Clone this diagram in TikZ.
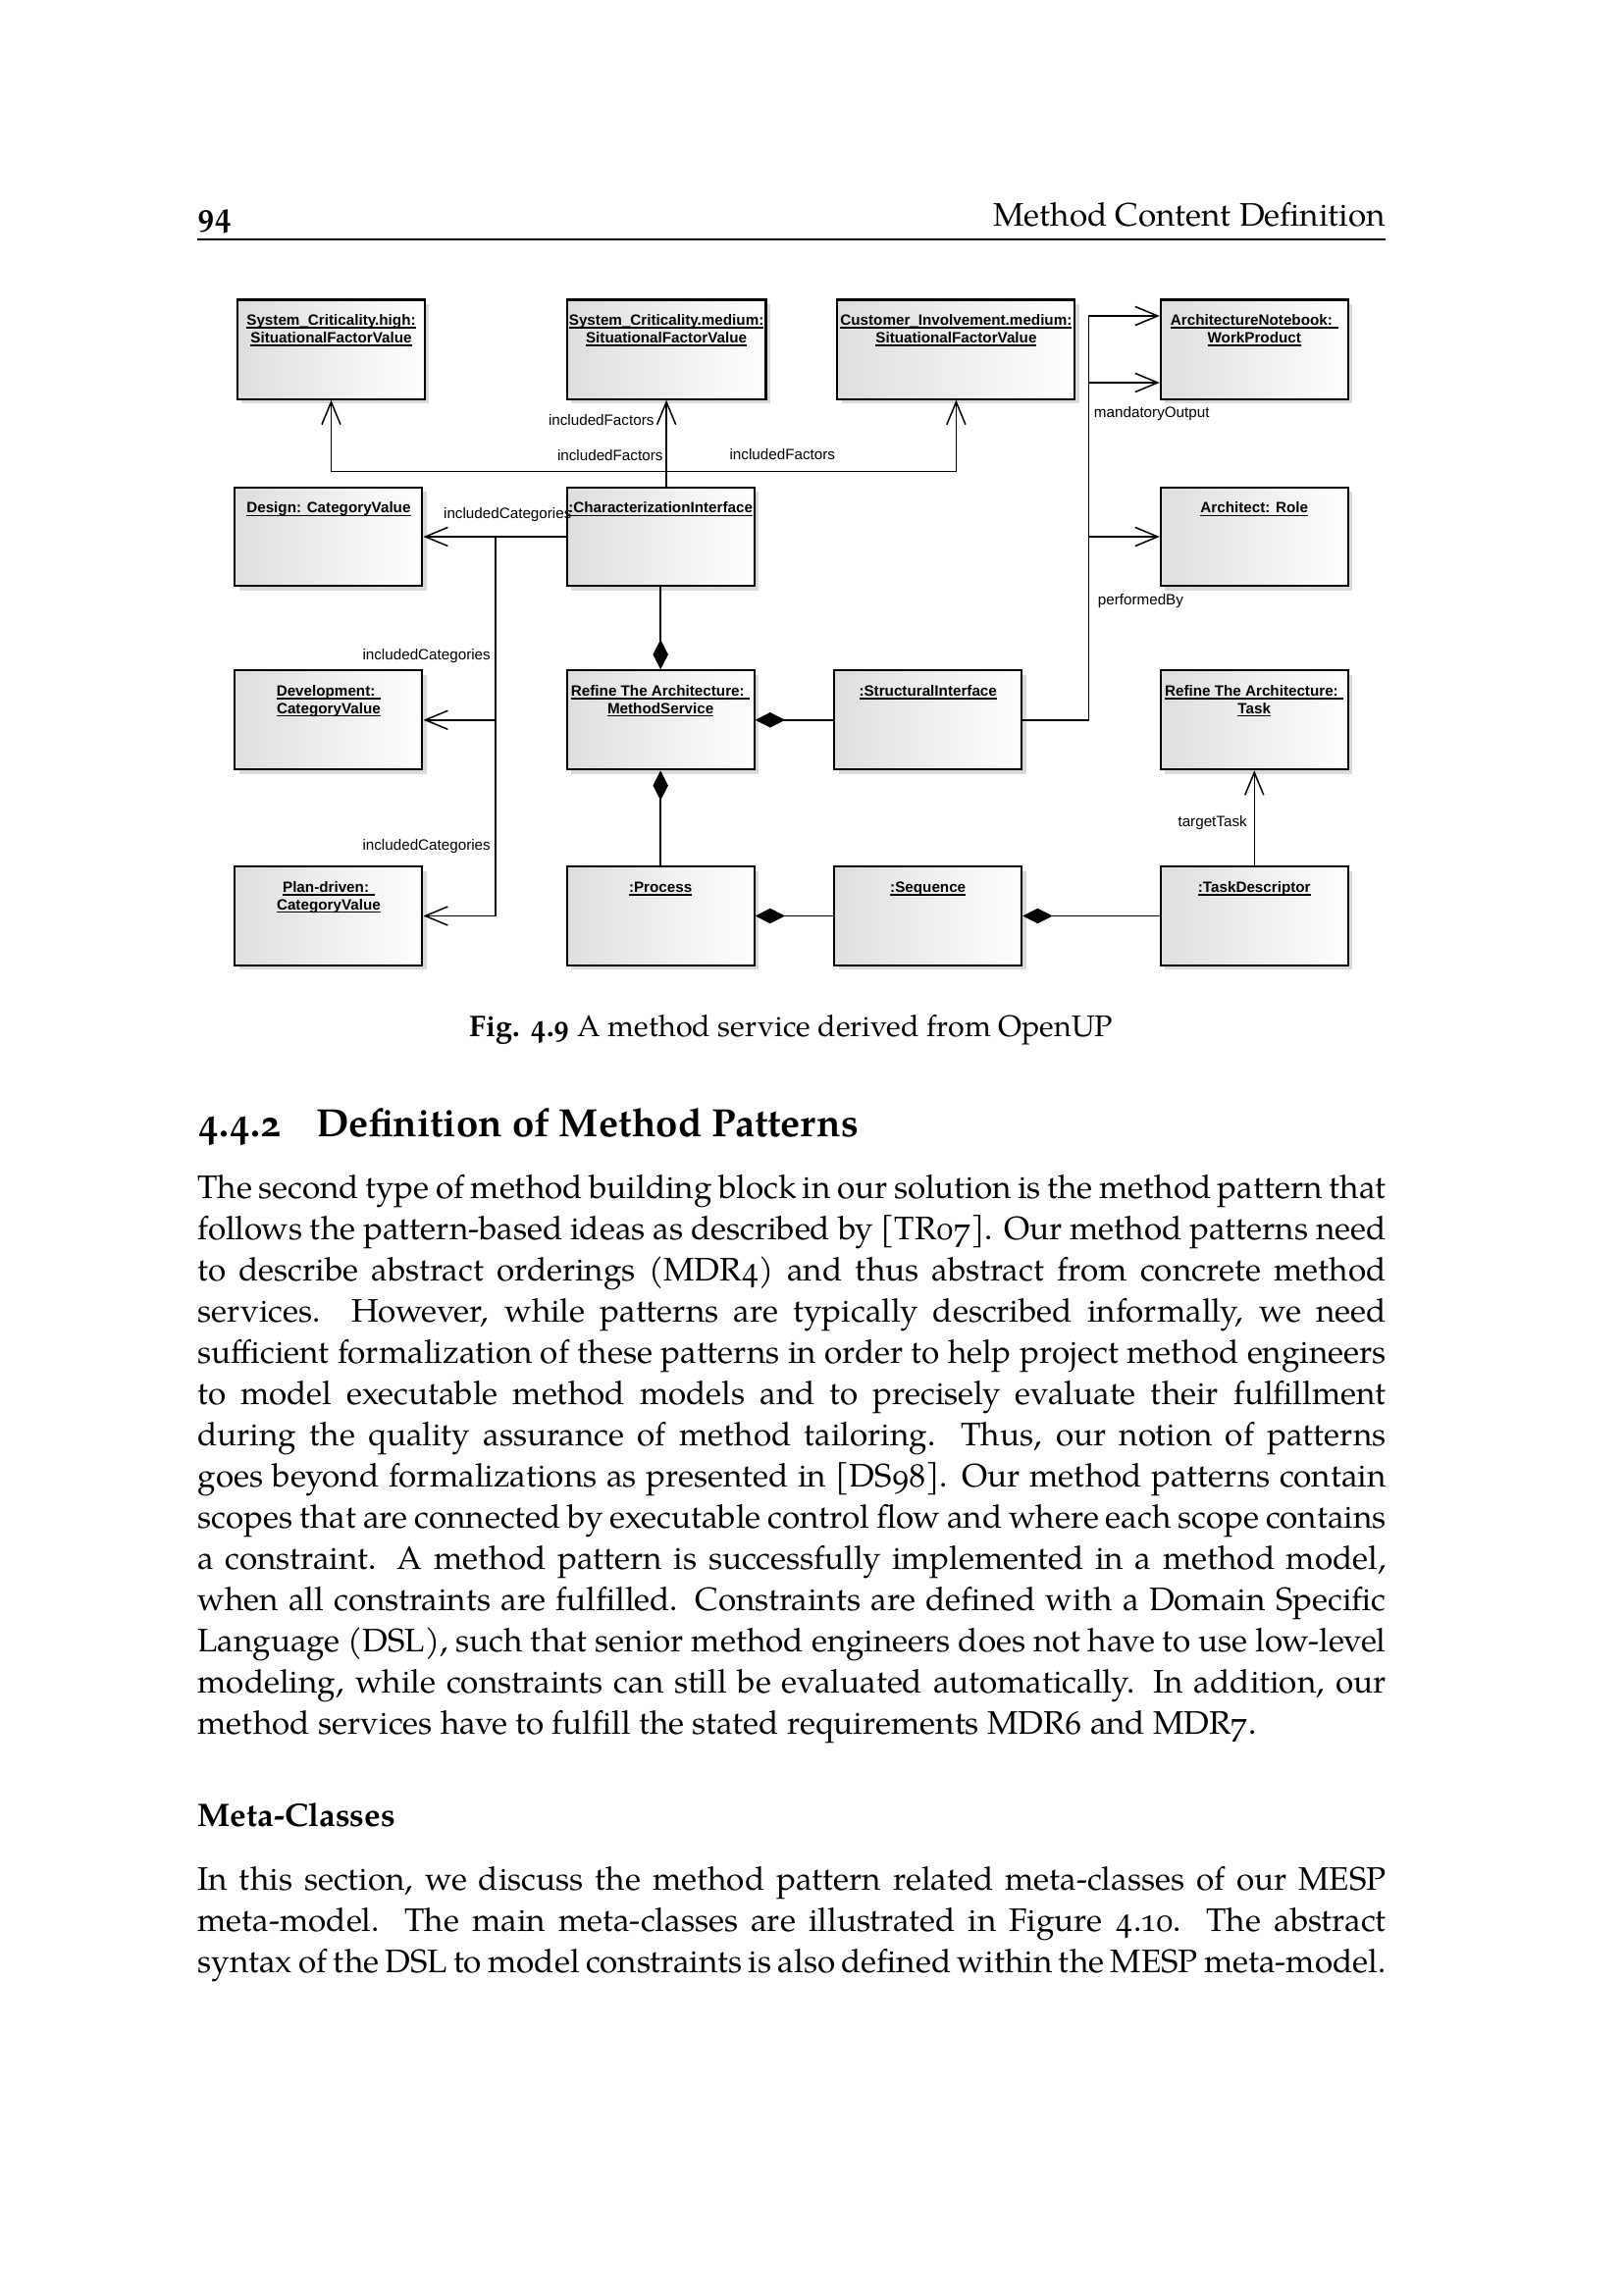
\documentclass[tikz,border=0pt]{standalone}
\usepackage{fontspec}
\setmainfont{TeX Gyre Pagella}[Numbers=OldStyle]
\newfontfamily\umlfont{Liberation Sans}
\usetikzlibrary{arrows.meta,shadows}
\newcommand\umlul[1]{\setbox0\hbox{#1}\rlap{\rule[-1.1pt]{\wd0}{0.5pt}}\box0}
\newcommand\umlobj[7]{%
  \node[umlbox, minimum width={(#4-#2)*0.36135pt}, minimum height={(#5-#3)*0.36135pt}] (#1) at ({(#2+#4)/2},{(#3+#5)/2}) {};
  \node[umltitle] (#1-a) at ({(#2+#4)/2},{#3+26.2}) {\umlul{#6}};
  \if\relax\detokenize{#7}\relax\else
  \node[umltitle] (#1-b) at ({(#2+#4)/2},{#3+44}) {\umlul{#7}};
  \fi}
\newcommand\jline[3]{\node[bodytext] (#1) at (201,#2) {\makebox[437.6pt][s]{#3}};}
\newcommand\nline[3]{\node[bodytext] (#1) at (201,#2) {#3};}
\tikzset{
  umlbox/.style={draw=black, line width=0.75pt, left color=black!13, right color=white,
    general shadow={fill=black!15, shadow xshift=1.6pt, shadow yshift=-1.6pt}, inner sep=0pt},
  umltitle/.style={font=\umlfont\bfseries\fontsize{5.5}{6.5}\selectfont, inner sep=0pt, anchor=base},
  umllabel/.style={font=\umlfont\fontsize{5.5}{6.5}\selectfont, inner sep=0pt},
  conn/.style={line width=0.55pt},
  navarrow/.style={-{Straight Barb[length=8.3pt,width=6.9pt,line width=0.55pt]}},
  comparrow/.style={{Diamond[length=11pt,width=5.6pt]}-},
  bodytext/.style={font=\fontsize{12}{15}\selectfont, inner sep=0pt, anchor=base west},
}
\begin{document}
\begin{tikzpicture}[x=0.36135pt,y=-0.36135pt]
\fill[white] (0,0) rectangle (1654,2339);
\useasboundingbox (0,0) rectangle (1654,2339);
% running head
\node[anchor=base west, inner sep=0pt, font=\fontsize{12}{14}\selectfont\bfseries] (pgnum) at (201,231) {94};
\node[anchor=base east, inner sep=0pt, font=\fontsize{12}{14}\selectfont] (runhead) at (1412,231) {Method Content Definition};
\draw[line width=0.4pt] (201,244) -- (1412,244);
% UML objects
\umlobj{sch}{242}{305.5}{433}{406.7}{System\_Criticality.high:}{SituationalFactorValue}
\umlobj{scm}{577.7}{305.5}{780.5}{406.7}{System\_Criticality.medium:}{SituationalFactorValue}
\umlobj{cim}{853.4}{305.5}{1095.4}{406.7}{Customer\_Involvement.medium:}{SituationalFactorValue}
\umlobj{anb}{1182.8}{305.5}{1373.7}{406.7}{ArchitectureNotebook: }{WorkProduct}
\umlobj{des}{239.4}{496.7}{430.4}{597.3}{Design: CategoryValue}{}
\umlobj{chi}{577.7}{496.7}{768.6}{597.3}{:CharacterizationInterface}{}
\umlobj{arc}{1182.8}{496.7}{1373.7}{597.3}{Architect: Role}{}
\umlobj{dev}{239.4}{683.3}{430.4}{784.3}{Development: }{CategoryValue}
\umlobj{ms}{577.7}{683.3}{768.6}{784.3}{Refine The Architecture: }{MethodService}
\umlobj{si}{850.2}{683.3}{1041.2}{784.3}{:StructuralInterface}{}
\umlobj{task}{1182.8}{683.3}{1373.7}{784.3}{Refine The Architecture: }{Task}
\umlobj{pd}{239.4}{883.3}{430.4}{983.7}{Plan-driven: }{CategoryValue}
\umlobj{proc}{577.7}{883.3}{768.6}{983.7}{:Process}{}
\umlobj{seq}{850.2}{883.3}{1041.2}{983.7}{:Sequence}{}
\umlobj{td}{1182.8}{883.3}{1373.7}{983.7}{:TaskDescriptor}{}
% includedFactors
\coordinate (fjun) at (679.1,480.7);
\draw[conn,navarrow] (chi.north -| scm.south) -- (scm.south);
\draw[conn,navarrow] (fjun) -| (sch.south);
\draw[conn,navarrow] (fjun) -| (cim.south);
\node[umllabel, anchor=east] (lf1) at (667,428) {includedFactors};
\node[umllabel, anchor=east] (lf2) at (676,464) {includedFactors};
\node[umllabel, anchor=west] (lf3) at (743,463) {includedFactors};
% includedCategories
\coordinate (cjun) at (505,547);
\draw[conn,navarrow] (chi.west) -- (des.east);
\draw[conn,navarrow] (cjun) |- (dev.east);
\draw[conn,navarrow] (cjun) |- (pd.east);
\node[umllabel, anchor=east] (lc1) at (583,525) {includedCategories};
\node[umllabel, anchor=east] (lc2) at (500.4,668.3) {includedCategories};
\node[umllabel, anchor=east] (lc3) at (500.4,862.3) {includedCategories};
% compositions
\draw[conn,comparrow] (ms.north) -- (chi.south);
\draw[conn,comparrow] (ms.south) -- (proc.north);
\draw[conn,comparrow] (ms.east) -- (si.west);
\draw[conn,comparrow] (proc.east) -- (seq.west);
\draw[conn,comparrow] (seq.east) -- (td.west);
% structural interface
\coordinate (busA) at (1109.4,322);
\coordinate (busB) at (1109.4,390);
\draw[conn] (si.east) -| (busA);
\draw[conn,navarrow] (busA) -- (busA -| anb.west);
\draw[conn,navarrow] (busB) -- (busB -| anb.west);
\draw[conn,navarrow] (busA |- arc.west) -- (arc.west);
\node[umllabel, anchor=west] (lmo) at (1114.4,422) {mandatoryOutput};
\node[umllabel, anchor=west] (lpb) at (1118.3,613) {performedBy};
% target task
\draw[conn,navarrow] (td.north) -- (task.south);
\node[umllabel, anchor=east] (ltt) at (1271.3,839) {targetTask};
% caption and section
\node[anchor=base, inner sep=0pt, font=\fontsize{11}{13}\selectfont] (caption) at (806.5,1056) {\textbf{Fig. 4.9} A method service derived from OpenUP};
\node[anchor=base west, inner sep=0pt, font=\fontsize{14.5}{17}\selectfont\bfseries] (secnum) at (201,1158) {4.4.2};
\node[anchor=base west, inner sep=0pt, font=\fontsize{14.5}{17}\selectfont\bfseries] (sectitle) at (322,1158) {Definition of Method Patterns};
% paragraph 1
\jline{p1}{1221}{The second type of method building block in our solution is the method pattern that}
\jline{p2}{1263}{follows the pattern-based ideas as described by [TR07]. Our method patterns need}
\jline{p3}{1305}{to describe abstract orderings (MDR4) and thus abstract from concrete method}
\jline{p4}{1347}{services. However, while patterns are typically described informally, we need}
\jline{p5}{1389}{sufficient formalization of these patterns in order to help project method engineers}
\jline{p6}{1431}{to model executable method models and to precisely evaluate their fulfillment}
\jline{p7}{1473}{during the quality assurance of method tailoring. Thus, our notion of patterns}
\jline{p8}{1515}{goes beyond formalizations as presented in [DS98]. Our method patterns contain}
\jline{p9}{1557}{scopes that are connected by executable control flow and where each scope contains}
\jline{p10}{1599}{a constraint. A method pattern is successfully implemented in a method model,}
\jline{p11}{1641}{when all constraints are fulfilled. Constraints are defined with a Domain Specific}
\jline{p12}{1683}{Language (DSL), such that senior method engineers does not have to use low-level}
\jline{p13}{1725}{modeling, while constraints can still be evaluated automatically. In addition, our}
\nline{p14}{1767}{method services have to fulfill the stated requirements MDR6 and MDR7.}
% Meta-Classes
\node[anchor=base west, inner sep=0pt, font=\fontsize{12}{14}\selectfont\bfseries] (metahead) at (201,1861) {Meta-Classes};
\jline{q1}{1926}{In this section, we discuss the method pattern related meta-classes of our MESP}
\jline{q2}{1968}{meta-model. The main meta-classes are illustrated in Figure 4.10. The abstract}
\jline{q3}{2010}{syntax of the DSL to model constraints is also defined within the MESP meta-model.}
\end{tikzpicture}
\end{document}
